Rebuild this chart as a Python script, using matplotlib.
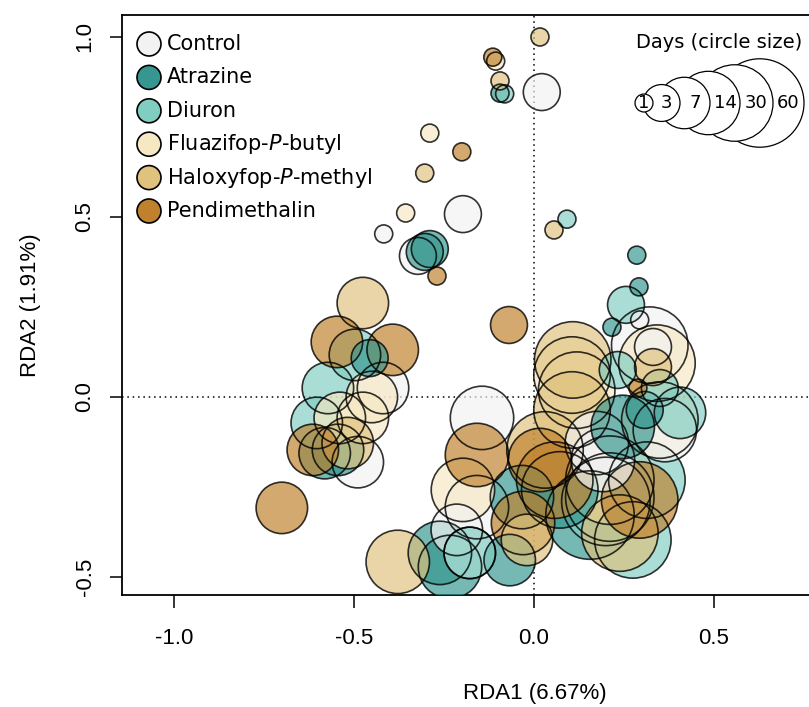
import numpy as np
import matplotlib
matplotlib.use("Agg")
from matplotlib import pyplot as plt
from matplotlib.patches import Circle

# RDA site scores (RDA1, RDA2) and sampling day
control_x = [0.022, -0.197, -0.417, -0.322, 0.322, 0.331, 0.294, -0.419, -0.489, -0.144,
             -0.158, -0.214, -0.178, 0.192, 0.175, 0.211, 0.364]
control_y = [0.847, 0.508, 0.453, 0.392, 0.144, 0.139, 0.214, 0.025, -0.181, -0.058,
             -0.306, -0.369, -0.433, -0.175, -0.128, -0.278, -0.092]
control_d = [3, 3, 1, 3, 30, 3, 1, 7, 7, 14, 14, 7, 7, 14, 14, 60, 14]

atrazine_x = [-0.094, -0.289, -0.303, 0.286, 0.292, 0.217, -0.456, -0.581, -0.544, -0.033,
              -0.261, -0.233, -0.067, 0.247, 0.156, 0.072, 0.308]
atrazine_y = [0.844, 0.411, 0.403, 0.394, 0.306, 0.194, 0.108, -0.156, -0.147, -0.278,
              -0.433, -0.472, -0.453, -0.083, -0.328, -0.258, -0.036]
atrazine_d = [1, 3, 3, 1, 1, 1, 3, 7, 7, 14, 14, 14, 7, 14, 60, 30, 3]

diuron_x = [-0.081, 0.092, 0.256, 0.233, 0.350, -0.497, -0.572, -0.603, -0.178, 0.314,
            0.275, 0.406, 0.200]
diuron_y = [0.842, 0.494, 0.256, 0.075, 0.025, 0.117, 0.025, -0.072, -0.433, -0.231,
            -0.397, -0.044, -0.290]
diuron_d = [1, 1, 3, 3, 3, 7, 7, 7, 7, 30, 30, 7, 60]

fluazifop_x = [-0.106, -0.289, -0.356, -0.539, -0.475, -0.450, 0.119, 0.106, 0.342, 0.211,
               -0.197, 0.350]
fluazifop_y = [0.933, 0.733, 0.511, -0.058, -0.058, 0.000, 0.019, 0.061, 0.094, -0.231,
               -0.258, -0.064]
fluazifop_d = [1, 1, 1, 7, 7, 7, 30, 30, 30, 60, 14, 30]

haloxyfop_x = [0.017, -0.094, -0.303, 0.056, -0.475, -0.517, 0.331, 0.108, 0.106, 0.239,
               -0.378, -0.019, 0.031]
haloxyfop_y = [1.000, 0.878, 0.622, 0.464, 0.261, -0.128, 0.083, 0.103, -0.036, -0.378,
               -0.458, -0.397, -0.147]
haloxyfop_d = [1, 1, 1, 1, 7, 7, 3, 30, 30, 30, 14, 7, 30]

pendi_x = [-0.114, -0.200, -0.269, -0.069, -0.547, -0.392, -0.614, -0.700, -0.158, 0.017,
           0.289, 0.058, -0.030, 0.294]
pendi_y = [0.944, 0.681, 0.336, 0.200, 0.153, 0.131, -0.147, -0.308, -0.161, -0.175,
           0.025, -0.231, -0.350, -0.286]
pendi_d = [1, 1, 1, 3, 7, 7, 7, 7, 14, 14, 1, 30, 14, 30]

treatments = ["Control", "Atrazine", "Diuron", "Fluazifop-$\\mathit{P}$-butyl",
              "Haloxyfop-$\\mathit{P}$-methyl", "Pendimethalin"]
colors = ["#F2F2F2", "#35978F", "#80CDC1", "#F6E8C3", "#DFC27D", "#BF812D"]
days = [1, 3, 7, 14, 30, 60]

xs = [control_x, atrazine_x, diuron_x, fluazifop_x, haloxyfop_x, pendi_x]
ys = [control_y, atrazine_y, diuron_y, fluazifop_y, haloxyfop_y, pendi_y]
ds = [control_d, atrazine_d, diuron_d, fluazifop_d, haloxyfop_d, pendi_d]


def radius_px(day):
    return 9 + 8.6 * np.log(day)


plt.rcParams['mathtext.fontset'] = 'dejavusans'
W, H = 809, 707
fig = plt.figure(figsize=(W / 100, H / 100), dpi=100)

# plot box in pixels: left 122, right 948 (cropped by figure), top 15, bottom 595
ax = fig.add_axes([122 / W, (H - 595) / H, 826 / W, 580 / H])
ax.set_xlim(-1.144, -1.144 + 826 / 360)
ax.set_ylim(-0.55, -0.55 + 580 / 360)

# all points, biggest first so small ones stay visible
px, py, pc, ps = [], [], [], []
for i in range(len(treatments)):
    for x, y, d in zip(xs[i], ys[i], ds[i]):
        px.append(x); py.append(y); pc.append(colors[i]); ps.append(d)
order = np.argsort(-np.array(ps), kind="stable")
px = np.array(px)[order]; py = np.array(py)[order]
pc = np.array(pc)[order]; ps = np.array(ps)[order]
sizes = (2 * radius_px(ps) * 0.72) ** 2
ax.scatter(px, py, s=sizes, c=list(pc), alpha=0.68, edgecolors="none", zorder=3)
ax.scatter(px, py, s=sizes, facecolors="none", edgecolors=(0, 0, 0, 0.8),
           linewidths=1.2, zorder=3)

ax.axhline(0, color="black", lw=1.1, ls=(0, (1, 2.5)), zorder=2)
ax.axvline(0, color="black", lw=1.1, ls=(0, (1, 2.5)), zorder=2)

tickfont = dict(family="Liberation Sans", size=16)
ax.set_xticks([-1.0, -0.5, 0.0, 0.5])
ax.set_xticklabels(["-1.0", "-0.5", "0.0", "0.5"], **tickfont)
ax.set_yticks([-0.5, 0.0, 0.5, 1.0])
ax.set_yticklabels(["-0.5", "0.0", "0.5", "1.0"], rotation=90, va="center", **tickfont)
ax.tick_params(axis="x", length=9, width=1.1, pad=15)
ax.tick_params(axis="y", length=9, width=1.1, pad=10)
for sp in ax.spines.values():
    sp.set_linewidth(1.3)

ax.set_xlabel("RDA1 (6.67%)", labelpad=24, **tickfont)
ax.set_ylabel("RDA2 (1.91%)", labelpad=24, **tickfont)

# overlay in pixel coordinates for the two legends
ov = fig.add_axes([0, 0, 1, 1])
ov.set_xlim(0, W)
ov.set_ylim(H, 0)
ov.axis("off")

for i, name in enumerate(treatments):
    yy = 44 + 33.4 * i
    ov.add_patch(Circle((149, yy), 12, facecolor=colors[i], edgecolor="black", lw=1.2))
    ov.text(167, yy, name, fontsize=15, va="center", ha="left", family="DejaVu Sans")

ov.text(719, 42, "Days (circle size)", fontsize=14, ha="center", va="center",
        family="DejaVu Sans")
rights = [653, 680, 710, 740, 773, 804]
for k in range(len(days) - 1, -1, -1):
    r = radius_px(days[k])
    ov.add_patch(Circle((rights[k] - r, 103), r, facecolor="white", edgecolor="black", lw=0.9))
for k in range(len(days)):
    left = rights[k - 1] if k > 0 else rights[0] - 2 * radius_px(days[0])
    ov.text((left + rights[k]) / 2, 103, str(days[k]), fontsize=13, ha="center",
            va="center", family="DejaVu Sans")

plt.savefig("out.png", dpi=100)
